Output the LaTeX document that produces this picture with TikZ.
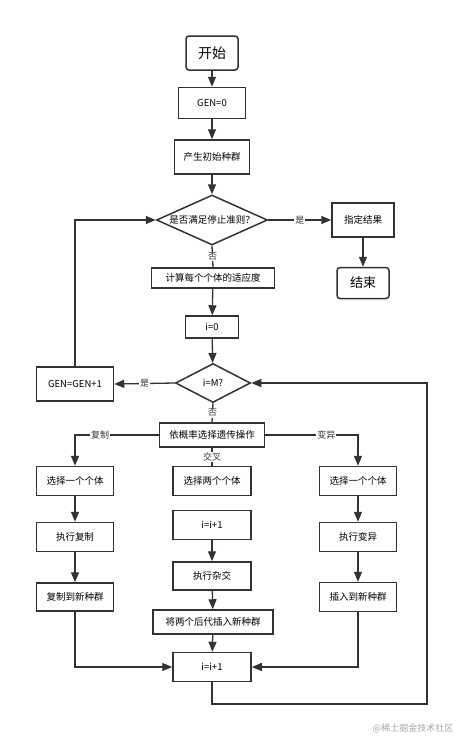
\documentclass[tikz,border=0pt]{standalone}
\usepackage{fontspec}
\setmainfont{Noto Sans CJK SC}
\usetikzlibrary{shapes.geometric,arrows.meta}
\definecolor{ink}{HTML}{333333}
\begin{document}
\begin{tikzpicture}[x=1pt, y=-1pt,
        box/.style={draw=ink, line width=1.5pt, rectangle, inner sep=0pt,
            minimum width=#1, font=\fontsize{9.5}{10}\selectfont},
        box/.default=77pt,
        term/.style={box=#1, rounded corners=3pt, font=\fontsize{13}{14}\selectfont},
        test/.style={draw=ink, line width=1.5pt, diamond, aspect=2.2, inner sep=0pt,
            font=\fontsize{9.5}{10}\selectfont},
        line/.style={draw=ink, line width=1.3pt},
        flow/.style={line, -{Triangle[length=10pt, width=8pt]}},
        lbl/.style={fill=white, inner sep=1pt, font=\fontsize{9}{10}\selectfont, text=ink}]
    \useasboundingbox (0,0) rectangle (474,750);
    % main column
    \node[term=52pt, minimum height=34pt, font=\fontsize{14}{15}\selectfont] (start) at (212,53) {开始};
    \node[box=67pt, minimum height=31pt] (gen0) at (212,103) {GEN=0};
    \node[box=75pt, minimum height=34pt] (init) at (212,157) {产生初始种群};
    \node[test, minimum width=111pt, minimum height=50pt] (stop) at (212,220) {是否满足停止准则？};
    \node[box=62pt, minimum height=34pt] (result) at (363,220) {指定结果};
    \node[term=52pt, minimum height=31pt] (end) at (363,283) {结束};
    \node[box=123pt, minimum height=20pt] (fit) at (213,278) {计算每个个体的适应度};
    \node[box=53pt, minimum height=22pt] (i0) at (212,327) {i=0};
    \node[test, minimum width=75pt, minimum height=39pt] (full) at (213,383) {i=M?};
    \node[box, minimum height=34pt] (genup) at (75,384) {GEN=GEN+1};
    \node[box=105pt, minimum height=24pt] (pick) at (212,435) {依概率选择遗传操作};
    % copy branch
    \node[box, minimum height=29pt] (sela) at (75,481) {选择一个个体};
    \node[box, minimum height=29pt] (copy) at (75,537) {执行复制};
    \node[box, minimum height=28pt] (copynew) at (75,597) {复制到新种群};
    % crossover branch
    \node[box=78pt, minimum height=29pt] (selb) at (212,481) {选择两个个体};
    \node[box=78pt, minimum height=29pt] (iinc) at (212,525) {i=i+1};
    \node[box=78pt, minimum height=28pt] (cross) at (212,576) {执行杂交};
    \node[box=120pt, minimum height=24pt] (crossnew) at (213,622) {将两个后代插入新种群};
    \node[box=78pt, minimum height=29pt] (inext) at (212,667) {i=i+1};
    % mutation branch
    \node[box, minimum height=29pt] (selc) at (358,481) {选择一个个体};
    \node[box, minimum height=29pt] (mut) at (358,537) {执行变异};
    \node[box, minimum height=29pt] (mutnew) at (358,597) {插入到新种群};
    \coordinate (back) at (427,704);
    % connectors
    \draw[flow] (start) -- (gen0);
    \draw[flow] (gen0) -- (init);
    \draw[flow] (init) -- (stop);
    \draw[flow] (stop.east) -- node[lbl, pos=0.5] {是} (result.west);
    \draw[flow] (result) -- (end);
    \draw[line] (stop.south) -- node[lbl] {否} (fit.north);
    \draw[flow] (fit) -- (i0);
    \draw[flow] (i0) -- (full);
    \draw[flow] (full.west) -- node[lbl] {是} (genup.east);
    \draw[flow] (genup.north) |- (stop.west);
    \draw[line] (full.south) -- node[lbl] {否} (pick.north);
    \draw[flow] (pick.west) -| node[lbl, pos=0.35] {复制} (sela.north);
    \draw[line] (pick.south) -- node[lbl] {交叉} (selb.north);
    \draw[flow] (pick.east) -| node[lbl, pos=0.33] {变异} (selc.north);
    \draw[flow] (sela) -- (copy);
    \draw[flow] (copy) -- (copynew);
    \draw[flow] (copynew.south) |- (inext.west);
    \draw[flow] (iinc) -- (cross);
    \draw[flow] (cross) -- (crossnew);
    \draw[flow] (crossnew) -- (inext);
    \draw[flow] (selc) -- (mut);
    \draw[flow] (mut) -- (mutnew);
    \draw[flow] (mutnew.south) |- (inext.east);
    \draw[flow] (inext.south) |- (back) |- (full.east);
    \node[text=black!35, font=\fontsize{9}{10}\selectfont] (mark) at (413,728) {@稀土掘金技术社区};
\end{tikzpicture}
\end{document}
